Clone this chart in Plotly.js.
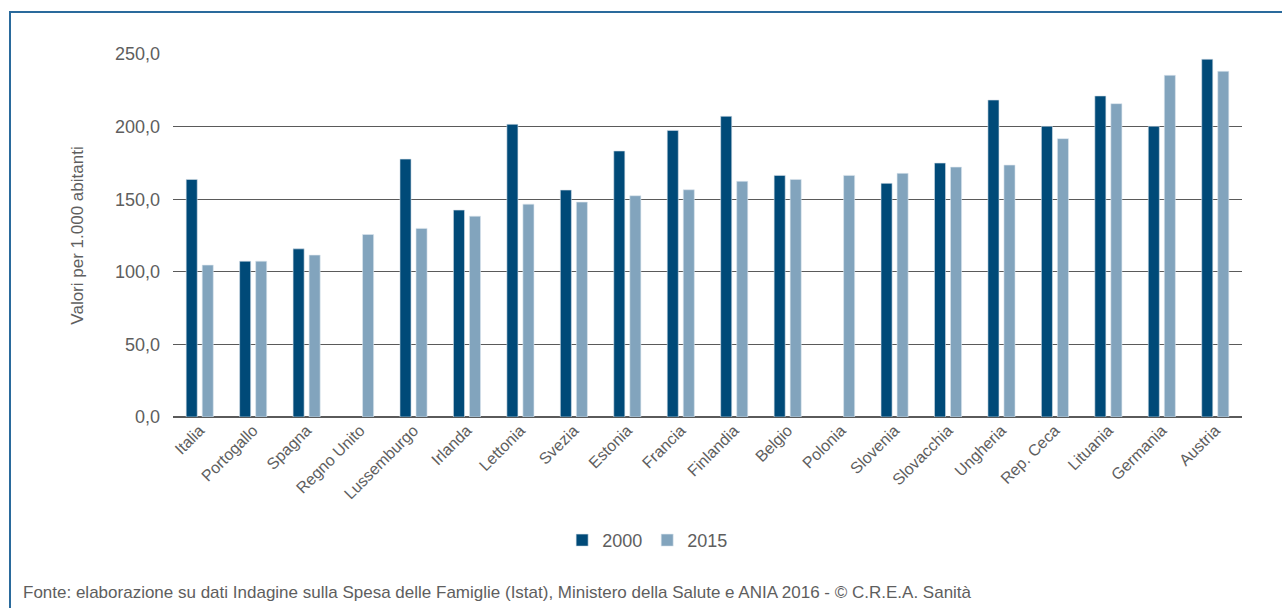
<!DOCTYPE html>
<html>
<head>
<meta charset="utf-8">
<script src="https://cdn.plot.ly/plotly-3.0.1.min.js"></script>
<style>
  html, body { margin: 0; padding: 0; background: #ffffff; }
  #wrap { position: relative; width: 1282px; height: 608px; overflow: hidden; }
  #frame { position: absolute; left: 9px; top: 11px; width: 1290px; height: 620px;
           border-left: 2px solid #2a6a9c; border-top: 2px solid #2a6a9c; pointer-events: none; }
  #chart { position: absolute; left: 0; top: 0; width: 1282px; height: 608px; }
</style>
</head>
<body>
<div id="wrap">
  <div id="chart"></div>
  <div id="frame"></div>
</div>
<script>
// Paesi ordinati per valore 2015
const paesi = ["Italia", "Portogallo", "Spagna", "Regno Unito", "Lussemburgo", "Irlanda",
  "Lettonia", "Svezia", "Estonia", "Francia", "Finlandia", "Belgio", "Polonia", "Slovenia",
  "Slovacchia", "Ungheria", "Rep. Ceca", "Lituania", "Germania", "Austria"];

// Valori per 1.000 abitanti
const valori2000 = [163.6, 107.3, 115.8, null, 177.6, 142.5, 201.6, 156.3, 183.2, 197.4,
  207.1, 166.4, null, 160.9, 174.9, 218.3, 200.2, 221.1, 200.2, 246.4];
const valori2015 = [104.6, 107.3, 111.5, 125.7, 129.9, 138.3, 146.6, 148.0, 152.4, 156.5,
  162.3, 163.6, 166.4, 167.8, 172.1, 173.5, 191.7, 215.8, 235.3, 238.1];

const serie = ["2000", "2015"];
const fonte = "Fonte: elaborazione su dati Indagine sulla Spesa delle Famiglie (Istat), Ministero della Salute e ANIA 2016 - © C.R.E.A. Sanità";

const FONT = "'Liberation Sans', Arial, sans-serif";
const GREY = "#5e5e5e";

const traces = [
  { type: "bar", name: serie[0], x: paesi, y: valori2000,
    marker: { color: "#004a78", line: { color: "#d6e1ea", width: 0.6 } } },
  { type: "bar", name: serie[1], x: paesi, y: valori2015,
    marker: { color: "#82a4bd", line: { color: "#dbe5ee", width: 0.6 } } }
];

const layout = {
  width: 1282, height: 608,
  margin: { l: 173, r: 40, t: 54, b: 191, pad: 0 },
  paper_bgcolor: "#ffffff", plot_bgcolor: "#ffffff",
  barmode: "group", bargap: 0.40, bargroupgap: 0.31,
  separators: ",.",
  font: { family: FONT, color: GREY },
  showlegend: true,
  legend: { orientation: "h", x: 0.444, xanchor: "center", y: -0.34, yanchor: "middle",
            font: { family: FONT, size: 18, color: GREY }, itemwidth: 30, traceorder: "normal" },
  xaxis: {
    type: "category", tickangle: -45, ticks: "", showgrid: false, showline: false, zeroline: false,
    tickfont: { family: FONT, size: 16, color: GREY }, automargin: false
  },
  yaxis: {
    range: [0, 250], tickvals: [0, 50, 100, 150, 200, 250], tickformat: ".1f",
    showgrid: true, gridcolor: "#5a5a5a", gridwidth: 1.3,
    zeroline: true, zerolinecolor: "#5a5a5a", zerolinewidth: 1.3,
    showline: false, ticks: "", ticklabelstandoff: 12,
    tickfont: { family: FONT, size: 18, color: GREY }, automargin: false,
    title: { text: "Valori per 1.000 abitanti", standoff: 27,
             font: { family: FONT, size: 17, color: GREY } }
  },
  annotations: [{
    text: fonte, xref: "paper", yref: "paper", x: -0.1425, y: -0.483,
    xanchor: "left", yanchor: "middle", showarrow: false,
    font: { family: FONT, size: 17, color: GREY }
  }]
};

Plotly.newPlot("chart", traces, layout, { staticPlot: true, displayModeBar: false });
</script>
</body>
</html>
